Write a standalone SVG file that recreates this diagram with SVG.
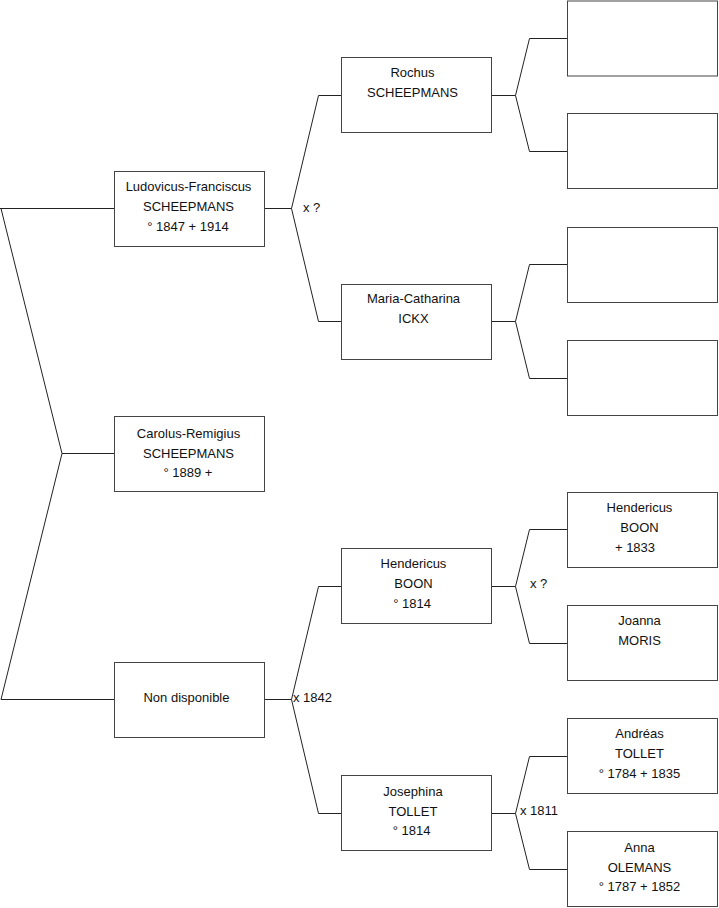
<svg xmlns="http://www.w3.org/2000/svg" width="719" height="908" viewBox="0 0 719 908">
<style>
.box{fill:#fff;stroke:#444;stroke-width:1}
.ln{fill:none;stroke:#222;stroke-width:1}
text{font-family:"Liberation Sans",Arial,sans-serif;font-size:13px;fill:#111}
.c{text-anchor:middle}
</style>
<rect width="719" height="908" fill="#fff"/>
<g id="connectors">
<path class="ln" d="M0,208.5H114.5M1,208.5L62,453.5L1,699.5M62,453.5H114.5M1,699.5H114.5"/>
<path class="ln" d="M265,208.5H291.5L318.5,95.5H341.5M291.5,208.5L318.5,321.5H341.5"/>
<path class="ln" d="M265,699.5H291.5L318.5,586.5H341.5M291.5,699.5L318.5,813.5H341.5"/>
<path class="ln" d="M491.5,95.5H515.5L529.5,38.5H567.5M515.5,95.5L529.5,151.5H567.5"/>
<path class="ln" d="M491.5,321.5H515.5L529.5,264.5H567.5M515.5,321.5L529.5,378.5H567.5"/>
<path class="ln" d="M491.5,586.5H515.5L529.5,529.5H567.5M515.5,586.5L529.5,643.5H567.5"/>
<path class="ln" d="M491.5,813.5H515.5L529.5,756.5H567.5M515.5,813.5L529.5,869.5H567.5"/>
<text x="303" y="212">x ?</text>
<text x="293" y="702">x 1842</text>
<text x="530" y="588">x ?</text>
<text x="520" y="815">x 1811</text>
</g>
<g id="n1"><rect class="box" x="114.5" y="171.5" width="150" height="75"/>
<text class="c" x="188.5" y="191">Ludovicus-Franciscus</text><text class="c" x="188.5" y="211">SCHEEPMANS</text><text class="c" x="188" y="231">° 1847 + 1914</text></g>
<g id="n2"><rect class="box" x="114.5" y="416.5" width="150" height="75"/>
<text class="c" x="188.5" y="438">Carolus-Remigius</text><text class="c" x="188.5" y="458">SCHEEPMANS</text><text class="c" x="188" y="477">° 1889 +</text></g>
<g id="n3"><rect class="box" x="114.5" y="662.5" width="150" height="75"/>
<text class="c" x="186.5" y="702">Non disponible</text></g>
<g id="n4"><rect class="box" x="341.5" y="57.5" width="150" height="75"/>
<text class="c" x="412.5" y="77">Rochus</text><text class="c" x="412.5" y="97">SCHEEPMANS</text></g>
<g id="n5"><rect class="box" x="341.5" y="284.5" width="150" height="75"/>
<text class="c" x="413.5" y="303">Maria-Catharina</text><text class="c" x="413.5" y="323">ICKX</text></g>
<g id="n6"><rect class="box" x="341.5" y="548.5" width="150" height="75"/>
<text class="c" x="413.5" y="568">Hendericus</text><text class="c" x="413.5" y="588">BOON</text><text class="c" x="412" y="608">° 1814</text></g>
<g id="n7"><rect class="box" x="341.5" y="775.5" width="150" height="75"/>
<text class="c" x="413" y="796">Josephina</text><text class="c" x="413" y="816">TOLLET</text><text class="c" x="411.5" y="835">° 1814</text></g>
<g id="n8"><rect class="box" x="567.5" y="1" width="150" height="75"/></g>
<g id="n9"><rect class="box" x="567.5" y="113.5" width="150" height="75"/></g>
<g id="n10"><rect class="box" x="567.5" y="227.5" width="150" height="75"/></g>
<g id="n11"><rect class="box" x="567.5" y="340.5" width="150" height="75"/></g>
<g id="n12"><rect class="box" x="567.5" y="492.5" width="150" height="75"/>
<text class="c" x="639.5" y="512">Hendericus</text><text class="c" x="639.5" y="532">BOON</text><text class="c" x="635" y="552">+ 1833</text></g>
<g id="n13"><rect class="box" x="567.5" y="605.5" width="150" height="75"/>
<text class="c" x="639.5" y="625">Joanna</text><text class="c" x="639.5" y="645">MORIS</text></g>
<g id="n14"><rect class="box" x="567.5" y="718.5" width="150" height="75"/>
<text class="c" x="639.5" y="738">Andréas</text><text class="c" x="639.5" y="758">TOLLET</text><text class="c" x="639.5" y="778">° 1784 + 1835</text></g>
<g id="n15"><rect class="box" x="567.5" y="831.5" width="150" height="75"/>
<text class="c" x="639.5" y="852">Anna</text><text class="c" x="639.5" y="872">OLEMANS</text><text class="c" x="639.5" y="891">° 1787 + 1852</text></g>
</svg>
